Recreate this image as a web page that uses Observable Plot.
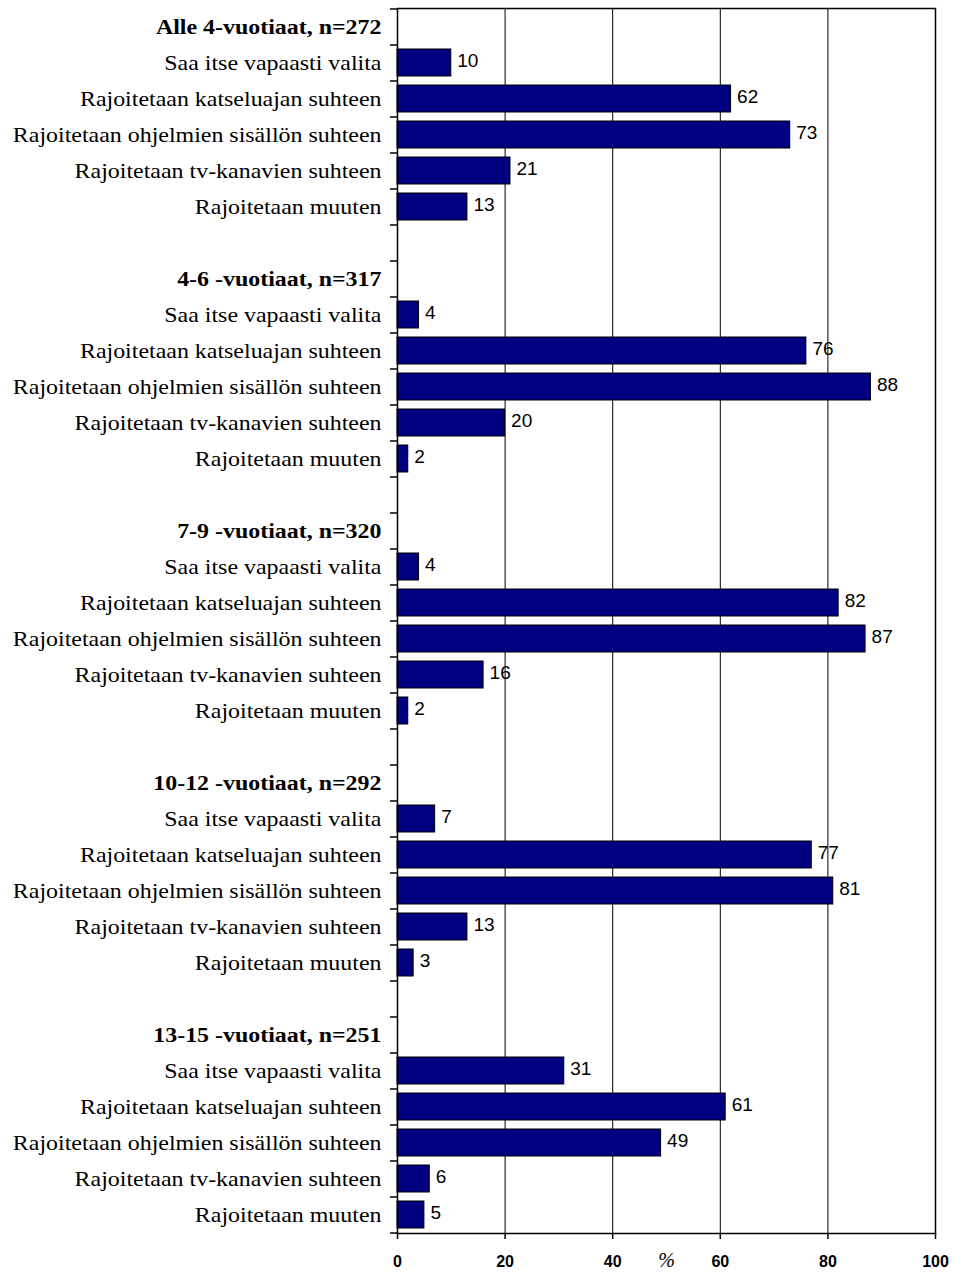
<!DOCTYPE html>
<html><head><meta charset="utf-8">
<script src="https://cdn.jsdelivr.net/npm/d3@7"></script>
<script src="https://cdn.jsdelivr.net/npm/@observablehq/plot@0.6"></script>
<style>
body{margin:0;background:#fff}
#chart svg [aria-label="x-axis label"] text{font-family:"Liberation Serif",serif;font-style:italic;font-weight:normal;font-size:20px}
</style></head><body><div id="chart"></div>
<script>
const groups = ["Alle 4-vuotiaat, n=272", "4-6 -vuotiaat, n=317", "7-9 -vuotiaat, n=320", "10-12 -vuotiaat, n=292", "13-15 -vuotiaat, n=251"];
const categories = ["Saa itse vapaasti valita", "Rajoitetaan katseluajan suhteen", "Rajoitetaan ohjelmien sisällön suhteen", "Rajoitetaan tv-kanavien suhteen", "Rajoitetaan muuten"];
const valuesAlle4 = [10, 62, 73, 21, 13];
const values4to6 = [4, 76, 88, 20, 2];
const values7to9 = [4, 82, 87, 16, 2];
const values10to12 = [7, 77, 81, 13, 3];
const values13to15 = [31, 61, 49, 6, 5];
const xTicks = [0, 20, 40, 60, 80, 100];
const xLabel = "%";

const W = 956, H = 1272, mT = 8, mB = 39, mL = 397, mR = 21;
const groupValues = [valuesAlle4, values4to6, values7to9, values10to12, values13to15];
const rows = [];
groups.forEach((g, gi) => {
  rows.push({key: `g${gi}-h`, type: "header", label: g});
  categories.forEach((c, ci) => rows.push({key: `g${gi}-c${ci}`, type: "item", label: c, value: groupValues[gi][ci]}));
  if (gi < groups.length - 1) rows.push({key: `g${gi}-b`, type: "blank", label: ""});
});
const keys = rows.map(r => r.key);
const step = (H - mT - mB) / keys.length;
const items = rows.filter(r => r.type === "item");
const headers = rows.filter(r => r.type === "header");
const serif = "Liberation Serif, Times New Roman, serif";

const chart = Plot.plot({
  width: W, height: H, marginTop: mT, marginBottom: mB, marginLeft: mL, marginRight: mR,
  style: {fontFamily: "Liberation Sans, Arial, sans-serif", background: "white", color: "black"},
  x: {domain: [0, 100]},
  y: {domain: keys, paddingInner: 0.25, paddingOuter: 0.125, axis: null},
  marks: [
    Plot.ruleX(xTicks.slice(1), {stroke: "black", strokeWidth: 1}),
    Plot.barX(items, {x: "value", y: "key", fill: "#000080", stroke: "black", strokeWidth: 1}),
    Plot.text(items, {x: "value", y: "key", text: d => String(d.value), textAnchor: "start", dx: 6, dy: -2, fontSize: 19, fill: "black"}),
    Plot.text(items, {x: 0, y: "key", text: "label", textAnchor: "end", dx: -16, fontFamily: serif, fontSize: 21, fill: "black"}),
    Plot.text(headers, {x: 0, y: "key", text: "label", textAnchor: "end", dx: -16, fontFamily: serif, fontSize: 21, fontWeight: "bold", fill: "black"}),
    Plot.ruleY(keys, {y: d => d, x1: 0, x2: -1.3, dy: -step / 2, stroke: "black", strokeWidth: 1.5}),
    Plot.ruleY(keys.slice(-1), {y: d => d, x1: 0, x2: -1.3, dy: step / 2, stroke: "black", strokeWidth: 1.5}),
    Plot.frame({stroke: "black", strokeWidth: 1.5}),
    Plot.axisX({ticks: xTicks, tickSize: 6, tickPadding: 16, fontSize: 16, fontWeight: "bold", label: xLabel, labelAnchor: "center", labelArrow: "none", labelOffset: 33, strokeWidth: 1.5})
  ]
});
chart.querySelectorAll("g").forEach(g => {
  if (g.getAttribute("font-family") !== serif) return;
  g.querySelectorAll("text").forEach(t => {
    const tr = t.getAttribute("transform");
    if (tr) t.setAttribute("transform", `${tr} scale(1.14,1)`);
  });
});
document.getElementById("chart").appendChild(chart);
</script></body></html>
